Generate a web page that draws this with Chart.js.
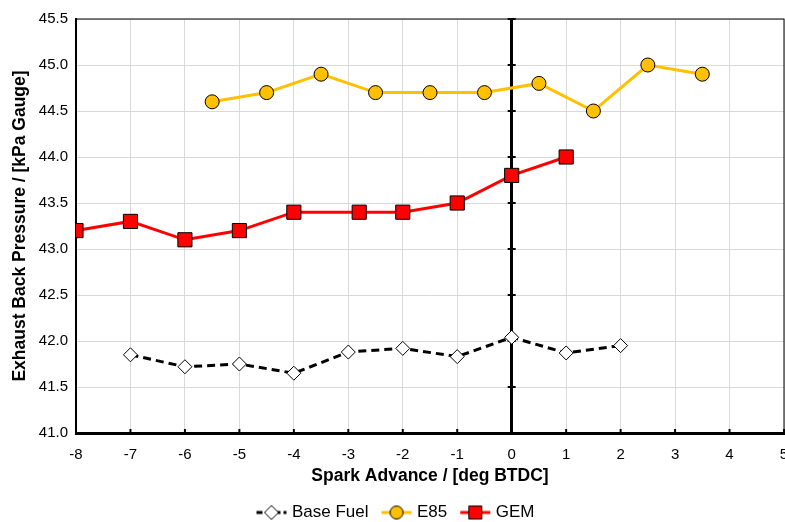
<!DOCTYPE html>
<html>
<head>
<meta charset="utf-8">
<script src="https://cdn.jsdelivr.net/npm/chart.js@4.4.1/dist/chart.umd.min.js"></script>
<style>
  html, body { margin: 0; padding: 0; background: #fff; overflow: hidden; }
  #wrap { width: 785px; height: 522px; }
</style>
</head>
<body>
<div id="wrap"><canvas id="chart" width="785" height="522"></canvas></div>
<script>
// données
const baseX = [-7, -6, -5, -4, -3, -2, -1, 0, 1, 2];
const baseY = [41.85, 41.72, 41.75, 41.65, 41.88, 41.92, 41.83, 42.04, 41.87, 41.95];
const e85X = [-5.5, -4.5, -3.5, -2.5, -1.5, -0.5, 0.5, 1.5, 2.5, 3.5];
const e85Y = [44.6, 44.7, 44.9, 44.7, 44.7, 44.7, 44.8, 44.5, 45.0, 44.9];
const gemX = [-8, -7, -6, -5, -4, -2.8, -2, -1, 0, 1];
const gemY = [43.2, 43.3, 43.1, 43.2, 43.4, 43.4, 43.4, 43.5, 43.8, 44.0];
const xTicks = [-8, -7, -6, -5, -4, -3, -2, -1, 0, 1, 2, 3, 4, 5];
const yTicks = [41.0, 41.5, 42.0, 42.5, 43.0, 43.5, 44.0, 44.5, 45.0, 45.5];

const FONT = "'Liberation Sans', Arial, sans-serif";

function toPoints(xs, ys) {
    return xs.map((x, i) => ({ x: x, y: ys[i] }));
}

// petite image pour la légende : trait + marqueur
function legendIcon(color, dash, marker, fill) {
    const c = document.createElement('canvas');
    c.width = 32; c.height = 16;
    const g = c.getContext('2d');
    g.strokeStyle = color;
    g.lineWidth = 3;
    g.setLineDash(dash);
    g.beginPath(); g.moveTo(1, 8); g.lineTo(31, 8); g.stroke();
    g.setLineDash([]);
    g.fillStyle = fill;
    g.strokeStyle = '#000';
    g.lineWidth = 1;
    g.beginPath();
    if (marker === 'diamond') {
        g.moveTo(16, 1); g.lineTo(23, 8); g.lineTo(16, 15); g.lineTo(9, 8); g.closePath();
    } else if (marker === 'circle') {
        g.arc(16, 8, 6.5, 0, Math.PI * 2);
    } else {
        g.rect(9.5, 1.5, 13, 13);
    }
    g.fill(); g.stroke();
    return c;
}

const icons = [
    legendIcon('#000', [6, 3], 'diamond', '#fff'),
    legendIcon('#FFC000', [], 'circle', '#FFC000'),
    legendIcon('#FF0000', [], 'square', '#FF0000')
];

// cadre, axe vertical à 0 et petites graduations
const framePlugin = {
    id: 'framePlugin',
    beforeDatasetsDraw(chart) {
        const { ctx, chartArea: a, scales: { x, y } } = chart;
        ctx.save();
        ctx.strokeStyle = '#000';
        ctx.lineWidth = 1;
        ctx.strokeRect(a.left, a.top, a.right - a.left, a.bottom - a.top);
        const x0 = x.getPixelForValue(0);
        ctx.lineWidth = 2;
        yTicks.forEach(v => {
            const py = y.getPixelForValue(v);
            ctx.beginPath(); ctx.moveTo(x0 - 4, py); ctx.lineTo(x0 + 4, py); ctx.stroke();
        });
        xTicks.forEach(v => {
            const px = x.getPixelForValue(v);
            ctx.beginPath(); ctx.moveTo(px, a.bottom); ctx.lineTo(px, a.bottom - 4); ctx.stroke();
        });
        ctx.restore();
    }
};

new Chart(document.getElementById('chart').getContext('2d'), {
    type: 'scatter',
    data: {
        datasets: [
            {
                label: 'Base Fuel',
                data: toPoints(baseX, baseY),
                showLine: true,
                borderColor: '#000',
                borderWidth: 3,
                borderDash: [8, 5],
                pointStyle: 'rectRot',
                pointRadius: 7,
                pointBackgroundColor: '#fff',
                pointBorderColor: '#000',
                pointBorderWidth: 1
            },
            {
                label: 'E85',
                data: toPoints(e85X, e85Y),
                showLine: true,
                borderColor: '#FFC000',
                borderWidth: 3,
                pointStyle: 'circle',
                pointRadius: 7,
                pointBackgroundColor: '#FFC000',
                pointBorderColor: '#000',
                pointBorderWidth: 1
            },
            {
                label: 'GEM',
                data: toPoints(gemX, gemY),
                showLine: true,
                borderColor: '#FF0000',
                borderWidth: 3,
                pointStyle: 'rect',
                pointRadius: 10,
                pointBackgroundColor: '#FF0000',
                pointBorderColor: '#000',
                pointBorderWidth: 1
            }
        ]
    },
    options: {
        responsive: false,
        animation: false,
        layout: { autoPadding: false, padding: { left: 10, right: 1, top: 19, bottom: -9 } },
        scales: {
            x: {
                type: 'linear',
                min: -8,
                max: 5,
                afterBuildTicks: (s) => { s.ticks = xTicks.map(v => ({ value: v })); },
                afterFit: (s) => { s.paddingRight = 0; s.height = 55; },
                ticks: {
                    color: '#000',
                    font: { family: FONT, size: 15 },
                    padding: 13
                },
                grid: {
                    color: (c) => c.tick && c.tick.value === 0 ? '#000' : '#D9D9D9',
                    lineWidth: (c) => c.tick && c.tick.value === 0 ? 3 : 1,
                    drawTicks: false
                },
                border: { color: '#000', width: 3 },
                title: {
                    display: true,
                    text: 'Spark Advance / [deg BTDC]',
                    color: '#000',
                    font: { family: FONT, size: 17.5, weight: 'bold' },
                    padding: { top: 4, bottom: 1 }
                }
            },
            y: {
                min: 41,
                max: 45.5,
                afterBuildTicks: (s) => { s.ticks = yTicks.map(v => ({ value: v })); },
                afterFit: (s) => { s.width = 66; },
                ticks: {
                    color: '#000',
                    font: { family: FONT, size: 15 },
                    padding: 8,
                    callback: (v) => Number(v).toFixed(1)
                },
                grid: { color: '#D9D9D9', lineWidth: 1, drawTicks: false },
                border: { color: '#000', width: 2 },
                title: {
                    display: true,
                    text: 'Exhaust Back Pressure / [kPa Gauge]',
                    color: '#000',
                    font: { family: FONT, size: 17.5, weight: 'bold' },
                    padding: { top: 0, bottom: 2 }
                }
            }
        },
        plugins: {
            legend: {
                position: 'bottom',
                labels: {
                    color: '#000',
                    font: { family: FONT, size: 17 },
                    usePointStyle: true,
                    pointStyleWidth: 24,
                    padding: 16,
                    generateLabels: (chart) => chart.data.datasets.map((d, i) => ({
                        text: d.label,
                        pointStyle: icons[i],
                        fillStyle: 'transparent',
                        strokeStyle: 'transparent',
                        lineWidth: 0,
                        datasetIndex: i,
                        fontColor: '#000'
                    }))
                }
            },
            tooltip: { enabled: false }
        }
    },
    plugins: [framePlugin]
});
</script>
</body>
</html>
